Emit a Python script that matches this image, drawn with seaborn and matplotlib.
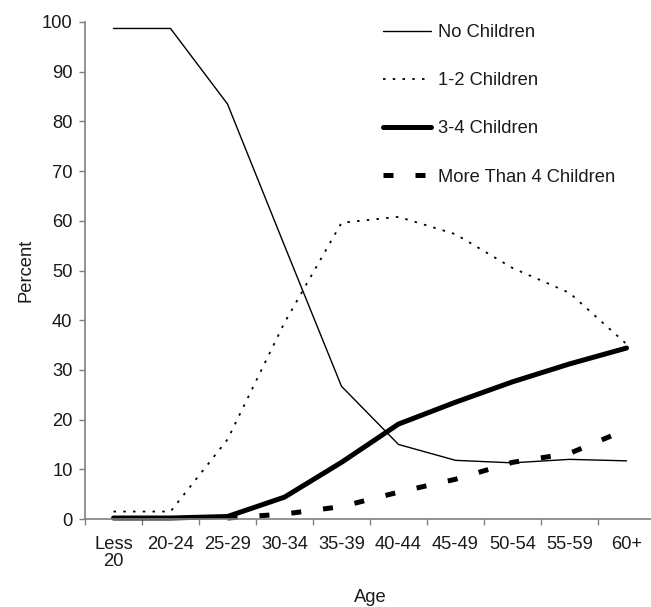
import numpy as np
import pandas as pd
import matplotlib
matplotlib.use("Agg")
import matplotlib.pyplot as plt
import seaborn as sns

# age groups on the x axis
age_groups = ["Less\n20", "20-24", "25-29", "30-34", "35-39",
              "40-44", "45-49", "50-54", "55-59", "60+"]

# percent of women by number of children
no_children = [98.7, 98.7, 83.5, 55.0, 26.7, 15.0, 11.8, 11.3, 12.0, 11.7]
one_two_children = [1.5, 1.5, 16.0, 39.5, 59.6, 60.8, 57.3, 50.5, 45.5, 35.2]
three_four_children = [0.2, 0.2, 0.5, 4.4, 11.4, 19.1, 23.5, 27.6, 31.2, 34.4]
more_than_four = [np.nan, np.nan, 0.2, 1.0, 2.5, 5.4, 8.0, 11.4, 13.2, 18.0]

series = {
    "No Children": no_children,
    "1-2 Children": one_two_children,
    "3-4 Children": three_four_children,
    "More Than 4 Children": more_than_four,
}
line_styles = {
    "No Children": dict(lw=1.0, ls="-"),
    "1-2 Children": dict(lw=1.3, ls=(0, (1.4, 4.0))),
    "3-4 Children": dict(lw=3.6, ls="-"),
    "More Than 4 Children": dict(lw=3.6, ls=(0, (2.0, 4.4))),
}

rows = []
for name, vals in series.items():
    for i, v in enumerate(vals):
        rows.append({"pos": i, "Percent": v, "group": name})
df = pd.DataFrame(rows).dropna()

sns.set_style("ticks")
plt.rcParams["font.family"] = ["Liberation Sans", "DejaVu Sans"]
fs = 13.2
plt.rcParams["font.size"] = fs

fig = plt.figure(figsize=(6.51, 6.07), dpi=100)
ax = fig.add_axes([85 / 651, 88 / 607, 570 / 651, 497 / 607])

for name in series:
    st = line_styles[name]
    sns.lineplot(data=df[df["group"] == name], x="pos", y="Percent",
                 color="black", linewidth=st["lw"], linestyle=st["ls"],
                 label=name, ax=ax, clip_on=False)

ax.set_xlim(-0.5, 9.5)
ax.set_ylim(0, 100)
ax.set_yticks(range(0, 101, 10))
ax.set_xticks(range(len(age_groups)))
ax.set_xticklabels(age_groups, linespacing=1.0)
ax.set_xticks([i - 0.5 for i in range(len(age_groups) + 1)], minor=True)
ax.tick_params(axis="x", which="major", length=0, pad=12, labelsize=fs, colors="#1a1a1a")
ax.tick_params(axis="x", which="minor", length=4, width=1, color="#808080", direction="out")
ax.tick_params(axis="y", length=4, width=1, color="#808080", pad=5, labelsize=fs,
               labelcolor="#1a1a1a")

for side in ["top", "right"]:
    ax.spines[side].set_visible(False)
for side in ["left", "bottom"]:
    ax.spines[side].set_color("#808080")
    ax.spines[side].set_linewidth(1.2)

ax.set_xlabel("Age", labelpad=14, color="#1a1a1a")
ax.set_ylabel("Percent", labelpad=5, color="#1a1a1a")

leg = ax.legend(loc="upper left", bbox_to_anchor=(383 / 651, (607 - 24) / 607),
                bbox_transform=fig.transFigure, frameon=False, borderpad=0,
                borderaxespad=0, handlelength=2.6, handletextpad=0.4,
                labelspacing=1.7, fontsize=fs)
for t in leg.get_texts():
    t.set_color("#1a1a1a")

fig.savefig("out.png", dpi=100)
